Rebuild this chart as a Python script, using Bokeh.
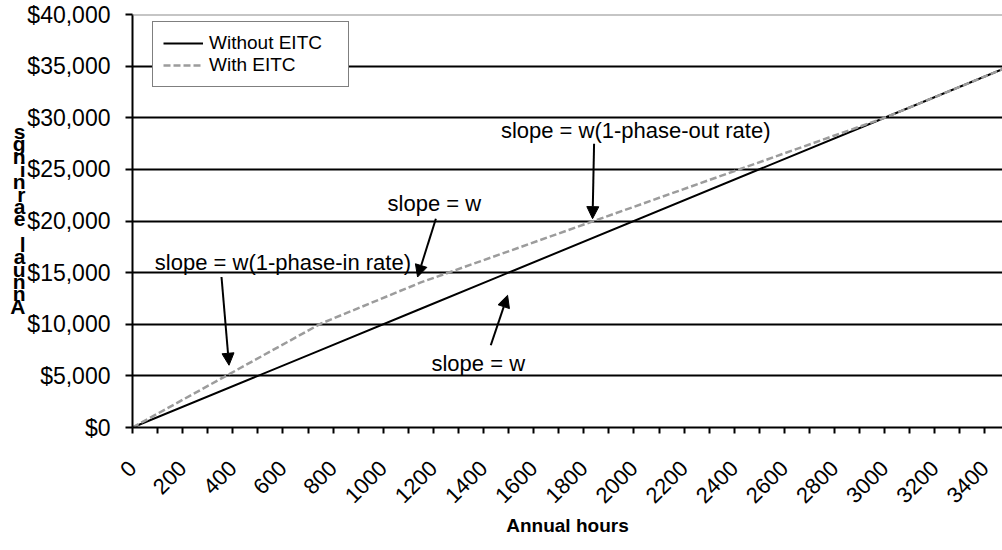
import math
from bokeh.plotting import figure
from bokeh.models import (Range1d, FixedTicker, NumeralTickFormatter, Span, Label,
                          Arrow, NormalHead, Legend, LegendItem, LinearAxis)
from bokeh.embed import file_html
from bokeh.resources import INLINE

# ---- data ----
hours = [0, 750, 1150, 3000, 3500]
without_eitc = [0, 7500, 11500, 30000, 35000]
with_eitc = [0, 10050, 14050, 30000, 35000]

x_tick_labels = [0, 200, 400, 600, 800, 1000, 1200, 1400, 1600, 1800, 2000,
                 2200, 2400, 2600, 2800, 3000, 3200, 3400]
x_minor_ticks = [100, 300, 500, 700, 900, 1100, 1300, 1500, 1700, 1900, 2100,
                 2300, 2500, 2700, 2900, 3100, 3300]
y_ticks = [0, 5000, 10000, 15000, 20000, 25000, 30000, 35000, 40000]
grid_ticks = [5000, 10000, 15000, 20000, 25000, 30000, 35000]

ann_texts = ["slope = w(1-phase-in rate)", "slope = w", "slope = w(1-phase-out rate)", "slope = w"]
ann_x = [600, 1204, 2007, 1379]
ann_y = [15996, 21676, 28766, 6222]

arrow_x0 = [355, 1210, 1841, 1429]
arrow_y0 = [14574, 20224, 27483, 7964]
arrow_x1 = [385, 1137, 1835, 1496]
arrow_y1 = [6029, 14574, 20224, 12803]

y_title = "Annual earnings"
x_title = "Annual hours"

FONT = "Liberation Sans"

p = figure(width=1002, height=550, output_backend="svg", toolbar_location=None,
           x_range=Range1d(0, 3470), y_range=Range1d(0, 40000),
           min_border_left=132, min_border_right=0, min_border_top=14,
           min_border_bottom=123)
p.outline_line_color = None
p.background_fill_color = "white"
p.border_fill_color = "white"

# grid
p.xgrid.visible = False
p.ygrid.ticker = FixedTicker(ticks=grid_ticks)
p.ygrid.grid_line_color = "black"
p.ygrid.grid_line_width = 2
p.add_layout(Span(location=40000, dimension="width", line_color="#8c8c8c", line_width=2))

# axes
xa = p.xaxis[0]
xa.ticker = FixedTicker(ticks=x_tick_labels, minor_ticks=x_minor_ticks)
xa.axis_line_color = "black"
xa.axis_line_width = 2
xa.major_tick_line_color = "black"
xa.major_tick_line_width = 2
xa.major_tick_out = 6
xa.major_tick_in = 0
xa.minor_tick_line_color = "black"
xa.minor_tick_line_width = 2
xa.minor_tick_out = 6
xa.minor_tick_in = 0
xa.major_label_orientation = math.pi / 4
xa.major_label_text_font = FONT
xa.major_label_text_font_size = "22px"
xa.major_label_text_color = "black"
xa.major_label_standoff = 31
xa.axis_label = x_title
xa.axis_label_text_font = FONT
xa.axis_label_text_font_size = "19px"
xa.axis_label_text_font_style = "bold"
xa.axis_label_text_color = "black"
xa.axis_label_standoff = 2

ya = p.yaxis[0]
ya.ticker = FixedTicker(ticks=y_ticks)
ya.formatter = NumeralTickFormatter(format="$0,0")
ya.axis_line_color = "black"
ya.axis_line_width = 2
ya.major_tick_line_color = "black"
ya.major_tick_line_width = 2
ya.major_tick_out = 7
ya.major_tick_in = 0
ya.minor_tick_line_color = None
ya.major_label_text_font = FONT
ya.major_label_text_font_size = "23px"
ya.major_label_text_color = "black"
ya.major_label_standoff = 15

# y title: stacked letters (as in the reference rendering), drawn as an extra axis
chars = list(y_title)[::-1]
letter_ticks = []
letter_map = {}
for i, ch in enumerate(chars):
    if ch == " ":
        continue
    py = 131 + 12.5 * i
    v = int(round((427 - py) / 0.010325))
    letter_ticks.append(v)
    letter_map[v] = ch
ta = LinearAxis(ticker=FixedTicker(ticks=letter_ticks), major_label_overrides=letter_map,
                axis_line_color=None, major_tick_line_color=None, minor_tick_line_color=None,
                major_tick_out=0, major_tick_in=0,
                major_label_standoff=-1, major_label_text_font=FONT,
                major_label_text_font_size="21px", major_label_text_font_style="bold",
                major_label_text_color="black")
p.add_layout(ta, "left")

# lines
r1 = p.line(hours, without_eitc, line_color="black", line_width=2)
r2 = p.line(hours, with_eitc, line_color="#9c9c9c", line_width=2.5, line_dash="7 3")

legend = Legend(items=[LegendItem(label="Without EITC", renderers=[r1]),
                       LegendItem(label="With EITC", renderers=[r2])],
                location=(20, 413 - 8 - 65), padding=10, spacing=0, glyph_width=40,
                glyph_height=20, label_height=20, label_standoff=6, label_width=129,
                margin=0, border_line_color="black", border_line_width=1.5,
                background_fill_color="white", background_fill_alpha=1.0,
                label_text_font=FONT, label_text_font_size="19px",
                label_text_color="black")
p.add_layout(legend)

# annotations
for t, x, y in zip(ann_texts, ann_x, ann_y):
    p.add_layout(Label(x=x, y=y, text=t, text_align="center", text_baseline="middle",
                       text_font=FONT, text_font_size="22px", text_color="black"))
for x0, y0, x1, y1 in zip(arrow_x0, arrow_y0, arrow_x1, arrow_y1):
    p.add_layout(Arrow(end=NormalHead(size=12, fill_color="black", line_color="black",
                                      line_width=1),
                       x_start=x0, y_start=y0, x_end=x1, y_end=y1,
                       line_color="black", line_width=2))

open("out.html", "w").write(file_html(p, INLINE))
